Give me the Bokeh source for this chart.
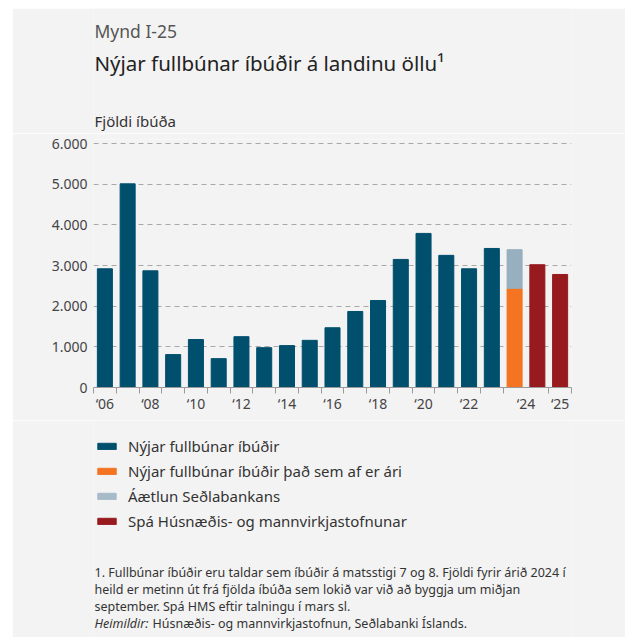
from bokeh.plotting import figure
from bokeh.models import FixedTicker, Legend, LegendItem, Range1d, Spacer
from bokeh.layouts import column, row
from bokeh.embed import file_html
from bokeh.resources import INLINE
from bokeh.core.properties import value

# ---- data ----
years = [2006, 2007, 2008, 2009, 2010, 2011, 2012, 2013, 2014, 2015, 2016, 2017,
         2018, 2019, 2020, 2021, 2022, 2023]
completed = [2920, 5010, 2870, 810, 1180, 710, 1250, 980, 1030, 1160, 1470, 1870,
             2140, 3150, 3790, 3250, 2920, 3420]
ytd_2024 = 2440
cb_estimate_2024 = 3390
hms_forecast = [3020, 2780]   # 2024, 2025
y_ticks = [0, 1000, 2000, 3000, 4000, 5000, 6000]
y_tick_labels = ["0", "1.000", "2.000", "3.000", "4.000", "5.000", "6.000"]
x_tick_labels = {0: "‘06", 2: "‘08", 4: "‘10", 6: "‘12", 8: "‘14", 10: "‘16",
                 12: "‘18", 14: "‘20", 16: "‘22", 18.5: "‘24", 20: "‘25"}

fig_label = "Mynd I-25"
title = "Nýjar fullbúnar íbúðir á landinu öllu¹"
y_title = "Fjöldi íbúða"
series_names = ["Nýjar fullbúnar íbúðir", "Nýjar fullbúnar íbúðir það sem af er ári",
                "Áætlun Seðlabankans", "Spá Húsnæðis- og mannvirkjastofnunar"]
footnote = ["1. Fullbúnar íbúðir eru taldar sem íbúðir á matsstigi 7 og 8. Fjöldi fyrir árið 2024 í",
            "heild er metinn út frá fjölda íbúða sem lokið var við að byggja um miðjan",
            "september. Spá HMS eftir talningu í mars sl."]
source_lead = "Heimildir:"
source_text = "Húsnæðis- og mannvirkjastofnun, Seðlabanki Íslands."

C_DARK = "#004f6d"
C_ORANGE = "#f47421"
C_GREY = "#97afbe"
C_GREY_LEG = "#a7bac8"
C_RED = "#971a1f"
BG = "#f3f3f3"
FONT = "Noto Sans"

W = 613
BL, BR = 81, 54          # shared left/right borders (frames are aligned in the column)
TOP_H, MAIN_H, BOT_H = 125, 287, 217
NAN = float("nan")


def blank(h):
    # x data units == pixels from the figure's left edge
    f = figure(width=W, height=h, output_backend="svg", toolbar_location=None,
               x_range=Range1d(BL, W - BR), y_range=Range1d(h, 0),
               x_axis_location=None, y_axis_location=None,
               min_border_left=BL, min_border_right=BR,
               min_border_top=0, min_border_bottom=0)
    f.grid.visible = False
    f.background_fill_color = BG
    f.border_fill_color = BG
    f.outline_line_color = None
    return f


def txt(f, s, x, y, size, color, style="normal"):
    f.text(x=[x], y=[y], text=[s], text_font=value(FONT), text_font_size=size,
           text_color=color, text_font_style=style, text_baseline="middle",
           text_align="left")


# ---- top: titles ----
top = blank(TOP_H)
txt(top, fig_label, 82, 22, "17.5px", "#555555")
txt(top, title, 82, 54, "20.5px", "#222222")
txt(top, y_title, 82, 112, "15px", "#333333")

# ---- main chart ----
p = figure(width=W, height=MAIN_H, output_backend="svg", toolbar_location=None,
           x_range=Range1d(-0.5, 20.5), y_range=Range1d(0, 6100),
           min_border_left=BL, min_border_right=BR, min_border_top=6,
           min_border_bottom=33)
p.background_fill_color = BG
p.border_fill_color = BG
p.outline_line_color = None

n = len(years)
xs = list(range(n))
bw = 0.66
p.vbar(x=xs, top=completed, width=bw, color=C_DARK)
p.vbar(x=[n], bottom=[0], top=[ytd_2024], width=bw, color=C_ORANGE)
p.vbar(x=[n], bottom=[ytd_2024], top=[cb_estimate_2024], width=bw, color=C_GREY)
p.vbar(x=[n + 1, n + 2], top=hms_forecast, width=bw, color=C_RED)

p.yaxis.ticker = FixedTicker(ticks=y_ticks)
p.yaxis.major_label_overrides = {t: l for t, l in zip(y_ticks, y_tick_labels)}
p.yaxis.axis_line_color = None
p.yaxis.major_tick_line_color = None
p.yaxis.minor_tick_line_color = None
p.yaxis.major_tick_out = 0
p.yaxis.major_label_standoff = 6
p.yaxis.major_label_text_font = FONT
p.yaxis.major_label_text_font_size = "14px"
p.yaxis.major_label_text_color = "#444444"

minor = [i - 0.5 for i in range(n + 1)] + [n + 1.5, n + 2.5]
p.xaxis.ticker = FixedTicker(ticks=list(x_tick_labels.keys()), minor_ticks=minor)
p.xaxis.major_label_overrides = x_tick_labels
p.xaxis.axis_line_color = "#9a9a9a"
p.xaxis.major_tick_line_color = None
p.xaxis.minor_tick_line_color = "#9a9a9a"
p.xaxis.minor_tick_out = 6
p.xaxis.minor_tick_in = 0
p.xaxis.major_tick_out = 0
p.xaxis.major_tick_in = 0
p.xaxis.major_label_standoff = 0
p.xaxis.major_label_text_font = FONT
p.xaxis.major_label_text_font_size = "14px"
p.xaxis.major_label_text_color = "#444444"

p.xgrid.grid_line_color = None
p.ygrid.ticker = FixedTicker(ticks=y_ticks[1:])
p.ygrid.grid_line_color = "#a8a8a8"
p.ygrid.grid_line_dash = "5 4"
p.ygrid.grid_line_width = 1

# ---- bottom: legend + footnotes ----
bot = blank(BOT_H)
leg_colors = [C_DARK, C_ORANGE, C_GREY_LEG, C_RED]
items = []
for name, c in zip(series_names, leg_colors):
    r = bot.vbar(x=[NAN], top=[NAN], width=1, color=c)
    items.append(LegendItem(label=name, renderers=[r]))
legend = Legend(items=items, location=(2, 106), orientation="vertical",
                background_fill_alpha=0, border_line_color=None,
                glyph_width=23, glyph_height=8, label_height=18, spacing=5,
                label_text_font=FONT, label_text_font_size="15px",
                label_text_color="#333333", label_standoff=10, padding=0, margin=0)
bot.add_layout(legend, "center")

for i, line in enumerate(footnote):
    txt(bot, line, 82, 152 + 17 * i, "12.5px", "#333333")
txt(bot, source_lead, 82, 203, "12.5px", "#333333", "italic")
txt(bot, source_text, 140, 203, "12.5px", "#333333")

layout = row(Spacer(width=12, height=637),
             column(Spacer(width=W, height=8), top, p, bot, spacing=0), spacing=0)
open("out.html", "w").write(file_html(layout, INLINE))
